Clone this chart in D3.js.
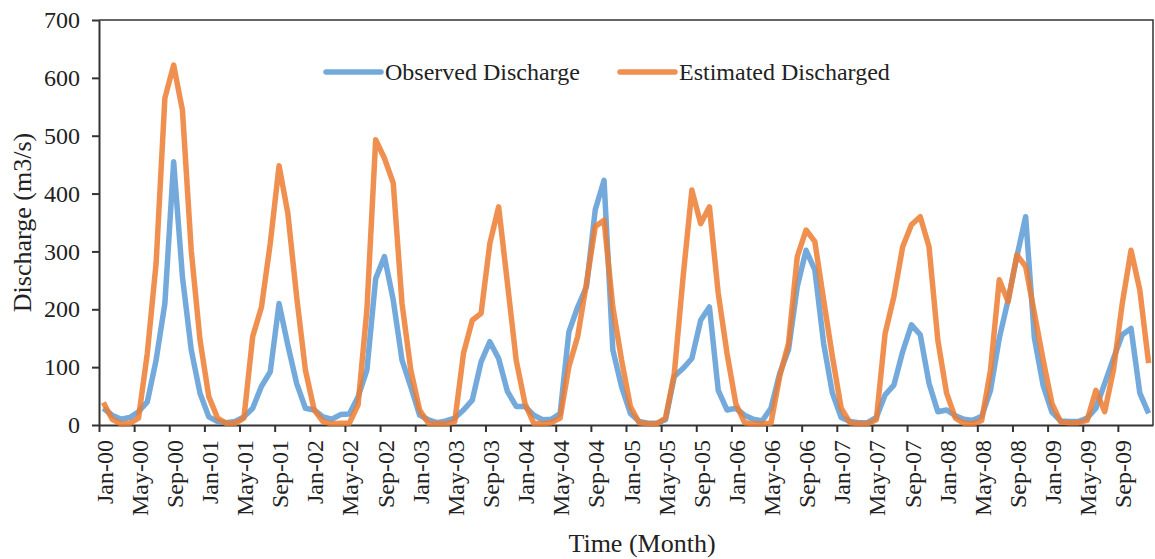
<html>
<head>
<meta charset="UTF-8"/>
<script src="https://d3js.org/d3.v7.min.js"></script>
<title>Observed vs Estimated Discharge</title>
<style>
body{
    margin:0;
    background:#fff;
}
svg{
    background-color:#fff;
    font-family:"Liberation Serif","Times New Roman",serif;
}
.axis path, .axis line{
    stroke:#333;
    stroke-width:2;
}
.axis text{
    fill:#222;
    font-size:24px;
    font-family:"Liberation Serif","Times New Roman",serif;
}
</style>
</head>

<body>

<svg id='chart' width=1155 height=559></svg>

<script>
'use strict';

// categories
var monthNames = ['Jan','Feb','Mar','Apr','May','Jun','Jul','Aug','Sep','Oct','Nov','Dec'];
var years = ['00','01','02','03','04','05','06','07','08','09'];
var months = [];
years.forEach(function(y){ monthNames.forEach(function(m){ months.push(m + '-' + y); }); });

// series values (m3/s)
var observed = [
 29,17,10,13,23,40,112,210,455,256,130,55,
 14,6,4,6,14,29,67,92,210,138,72,29,
 26,14,10,18,19,49,95,253,291,216,112,66,
 17,9,4,7,12,26,43,109,144,115,58,32,
 32,17,9,10,20,161,204,239,372,423,130,66,
 20,6,3,3,9,84,98,115,181,204,60,26,
 29,17,10,7,29,89,130,239,302,268,141,55,
 13,6,4,4,13,52,69,127,173,156,72,23,
 26,16,10,8,15,60,150,216,291,360,150,68,
 22,7,6,6,12,29,72,115,156,167,55,20
];
var estimated = [
 39,10,2,3,12,124,279,565,622,544,302,147,
 49,12,3,3,12,153,204,314,448,366,222,95,
 26,6,2,3,3,35,199,493,461,418,210,95,
 26,3,2,2,6,124,181,193,314,377,245,112,
 37,3,2,4,12,101,153,245,343,354,204,112,
 32,4,2,2,12,89,256,406,348,377,228,124,
 37,4,2,2,3,84,141,291,337,317,216,118,
 29,4,2,2,9,158,222,308,346,360,308,147,
 55,12,3,2,8,95,251,213,294,274,193,112,
 37,5,4,4,8,60,23,95,210,302,233,107
];

// tick labels
var yTicks = [0,100,200,300,400,500,600,700];
var tickLabels = months.filter(function(d,i){ return i % 4 === 0; });

var svg = d3.select('#chart');
var plotLeft = 99, plotRight = 1153, plotTop = 20, plotBottom = 425;

var x = d3.scaleBand().domain(months).range([plotLeft, plotRight]).padding(0);
var xi = d3.scaleLinear().domain([0, months.length]).range([plotLeft, plotRight]);
var y = d3.scaleLinear().domain([0, 700]).range([plotBottom, plotTop]);

// frame (top and right)
svg.append('path')
    .attr('d', 'M' + plotLeft + ',' + plotTop + 'H' + plotRight + 'V' + plotBottom)
    .attr('fill', 'none')
    .attr('stroke', '#333')
    .attr('stroke-width', 1.5);

// y axis
var yAxis = d3.axisLeft(y).tickValues(yTicks).tickSize(7).tickPadding(12).tickSizeOuter(0);
svg.append('g').attr('class','axis')
    .attr('transform','translate(' + plotLeft + ',0)')
    .call(yAxis);

// x axis: tick marks on category edges every 4 months
var xTickAxis = d3.axisBottom(xi)
    .tickValues(d3.range(0, months.length, 4))
    .tickSize(7).tickSizeOuter(0)
    .tickFormat('');
svg.append('g').attr('class','axis')
    .attr('transform','translate(0,' + plotBottom + ')')
    .call(xTickAxis);

// x labels at category centres
var xLabelAxis = d3.axisBottom(x).tickValues(tickLabels).tickSize(0);
var gl = svg.append('g').attr('class','axis')
    .attr('transform','translate(0,' + plotBottom + ')')
    .call(xLabelAxis);
gl.select('.domain').remove();
gl.selectAll('text')
    .attr('y', 0)
    .attr('x', 0)
    .attr('dy', '0.38em')
    .attr('text-anchor', 'end')
    .attr('transform', 'translate(0,15) rotate(-90)');

// lines
var line = d3.line()
    .x(function(d,i){ return x(months[i]) + x.bandwidth()/2; })
    .y(function(d){ return y(d); });

svg.append('path')
    .datum(observed)
    .attr('d', line)
    .attr('fill','none')
    .attr('stroke','#5B9BD5')
    .attr('stroke-opacity',0.85)
    .attr('stroke-width',5.5)
    .attr('stroke-linejoin','round');

svg.append('path')
    .datum(estimated)
    .attr('d', line)
    .attr('fill','none')
    .attr('stroke','#ED7D31')
    .attr('stroke-opacity',0.85)
    .attr('stroke-width',5.5)
    .attr('stroke-linejoin','round');

// legend
var legend = [
    {name:'Observed Discharge', color:'#5B9BD5', x:326},
    {name:'Estimated Discharged', color:'#ED7D31', x:620}
];
var lg = svg.selectAll('.legend').data(legend).enter().append('g')
    .attr('class','legend')
    .attr('transform', function(d){ return 'translate(' + d.x + ',72)'; });
lg.append('line')
    .attr('x1',0).attr('x2',55).attr('y1',0).attr('y2',0)
    .attr('stroke', function(d){ return d.color; })
    .attr('stroke-opacity',0.85)
    .attr('stroke-width',5.5)
    .attr('stroke-linecap','round');
lg.append('text')
    .attr('x',59).attr('dy','0.35em')
    .attr('font-size','24px')
    .attr('fill','#222')
    .text(function(d){ return d.name; });

// axis titles
svg.append('text')
    .attr('x', 642).attr('y', 552)
    .attr('text-anchor','middle')
    .attr('font-size','26px')
    .attr('fill','#222')
    .text('Time (Month)');

svg.append('text')
    .attr('transform','translate(31,' + ((plotTop + plotBottom)/2) + ') rotate(-90)')
    .attr('text-anchor','middle')
    .attr('font-size','26px')
    .attr('fill','#222')
    .text('Discharge (m3/s)');
</script>

</body>
</html>
